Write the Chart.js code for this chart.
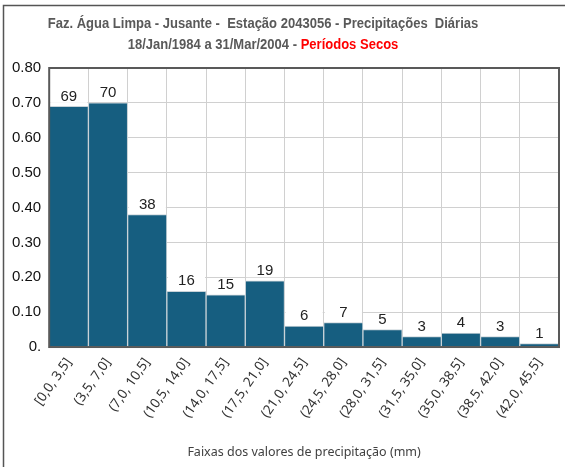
<!DOCTYPE html>
<html>
<head>
<meta charset="utf-8">
<script src="https://cdn.jsdelivr.net/npm/chart.js@4"></script>
<style>
  html, body { margin: 0; padding: 0; background: #fff; }
  #wrap { width: 565px; height: 467px; position: relative; }
</style>
</head>
<body>
<div id="wrap"><canvas id="myChart" width="565" height="467"></canvas></div>
<script>
const faixas = [
  "[0,0, 3,5]", "(3,5, 7,0]", "(7,0, 10,5]", "(10,5, 14,0]", "(14,0, 17,5]",
  "(17,5, 21,0]", "(21,0, 24,5]", "(24,5, 28,0]", "(28,0, 31,5]", "(31,5, 35,0]",
  "(35,0, 38,5]", "(38,5, 42,0]", "(42,0, 45,5]"
];
const frequencias = [0.69, 0.70, 0.38, 0.16, 0.15, 0.19, 0.06, 0.07, 0.05, 0.03, 0.04, 0.03, 0.01];
const contagens = [69, 70, 38, 16, 15, 19, 6, 7, 5, 3, 4, 3, 1];

const titulo1 = "Faz. Água Limpa - Jusante -  Estação 2043056 - Precipitações  Diárias";
const titulo2a = "18/Jan/1984 a 31/Mar/2004 - ";
const titulo2b = "Períodos Secos";

const ctx = document.getElementById("myChart").getContext("2d");

// moldura, titulo e rotulos das barras
const extras = {
  id: "extras",
  beforeDraw(chart) {
    const c = chart.ctx;
    c.save();
    c.strokeStyle = "#555";
    c.lineWidth = 1.5;
    c.beginPath();
    c.moveTo(3.5, 467);
    c.lineTo(3.5, 5.5);
    c.lineTo(565, 5.5);
    c.stroke();

    // fonte do titulo um pouco condensada
    c.translate(263, 0);
    c.scale(0.93, 1);
    c.font = "bold 14px 'Liberation Sans', Arial, sans-serif";
    c.textBaseline = "middle";
    c.fillStyle = "#595959";
    c.textAlign = "center";
    c.fillText(titulo1, 0, 24);
    const wa = c.measureText(titulo2a).width;
    const wb = c.measureText(titulo2b).width;
    const x0 = -(wa + wb) / 2;
    c.textAlign = "left";
    c.fillText(titulo2a, x0, 45);
    c.fillStyle = "#ff0000";
    c.fillText(titulo2b, x0 + wa, 45);
    c.restore();
  },
  afterDatasetsDraw(chart) {
    const c = chart.ctx;
    const meta = chart.getDatasetMeta(0);
    c.save();
    c.font = "15px 'Liberation Sans', Arial, sans-serif";
    c.textAlign = "center";
    c.textBaseline = "middle";
    meta.data.forEach((bar, i) => {
      const w = bar.width;
      const yc = bar.y - 10;
      c.fillStyle = "#fff";
      c.fillRect(bar.x - w / 2 + 1, yc - 6.5, w - 2, 13);
      c.fillStyle = "#222";
      c.fillText(String(contagens[i]), bar.x, yc);
    });
    const a = chart.chartArea;
    c.strokeStyle = "#595959";
    c.lineWidth = 2;
    c.strokeRect(a.left, a.top, a.right - a.left, a.bottom - a.top);
    c.restore();
  }
};

new Chart(ctx, {
  type: "bar",
  data: {
    labels: faixas,
    datasets: [
      {
        data: frequencias,
        backgroundColor: "#165e80",
        borderColor: "#c9d3d8",
        borderWidth: 1,
        barPercentage: 1,
        categoryPercentage: 1,
      },
    ],
  },
  options: {
    responsive: false,
    animation: false,
    layout: { padding: { top: 68, left: 4, right: 6, bottom: 7 } },
    plugins: {
      legend: { display: false },
      tooltip: { enabled: false },
    },
    scales: {
      x: {
        grid: { color: "#d0d0d0", drawTicks: false, offset: true },
        border: { display: false },
        ticks: {
          color: "#333",
          font: { family: "'Noto Sans', sans-serif", size: 13.5 },
          maxRotation: 55,
          minRotation: 55,
          padding: 8,
        },
        title: {
          display: true,
          text: "Faixas dos valores de precipitação (mm)",
          color: "#404040",
          font: { family: "'Noto Sans', sans-serif", size: 12.5 },
          padding: { top: 16, bottom: 0 },
        },
      },
      y: {
        min: 0,
        max: 0.8,
        grid: { color: "#d0d0d0", drawTicks: false },
        border: { display: false },
        ticks: {
          stepSize: 0.1,
          color: "#111",
          font: { family: "'Liberation Sans', Arial, sans-serif", size: 15 },
          padding: 8,
          callback: (v) => (v === 0 ? "0." : Number(v).toFixed(2)),
        },
      },
    },
  },
  plugins: [extras],
});
</script>
</body>
</html>
